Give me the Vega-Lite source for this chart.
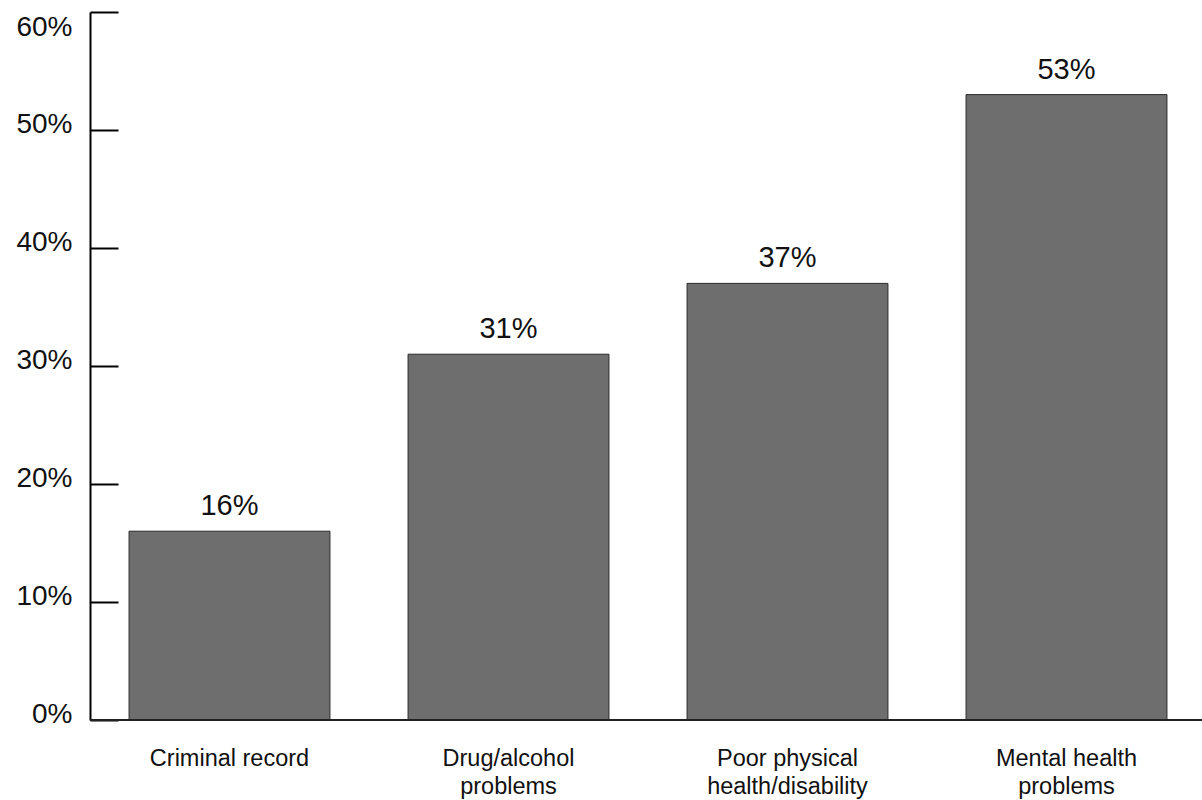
{
  "$schema": "https://vega.github.io/schema/vega-lite/v6.json",
  "autosize": {"type": "none"},
  "width": 1116,
  "height": 708,
  "padding": {"left": 90, "top": 12, "right": 0, "bottom": 80},
  "background": "white",
  "config": {"view": {"stroke": null}, "font": "Liberation Sans"},
  "data": {
    "values": [
      {"category": "Criminal record", "value": 16, "label": "16%"},
      {"category": "Drug/alcohol problems", "value": 31, "label": "31%"},
      {"category": "Poor physical health/disability", "value": 37, "label": "37%"},
      {"category": "Mental health problems", "value": 53, "label": "53%"}
    ]
  },
  "encoding": {
    "x": {
      "field": "category",
      "type": "nominal",
      "sort": null,
      "scale": {"paddingInner": 0.28, "paddingOuter": 0.14},
      "axis": {
        "title": null,
        "labelAngle": 0,
        "labelFont": "Liberation Sans",
        "labelFontSize": 23.5,
        "labelColor": "#111",
        "labelPadding": 26,
        "labelLineHeight": 28,
        "labelBaseline": "top",
        "labelExpr": "datum.value == 'Criminal record' ? ['Criminal record'] : datum.value == 'Drug/alcohol problems' ? ['Drug/alcohol', 'problems'] : datum.value == 'Poor physical health/disability' ? ['Poor physical', 'health/disability'] : ['Mental health', 'problems']",
        "ticks": false,
        "domain": false,
        "labelLimit": 400
      }
    },
    "y": {
      "field": "value",
      "type": "quantitative",
      "scale": {"domain": [0, 60], "nice": false},
      "axis": {
        "title": null,
        "values": [0, 10, 20, 30, 40, 50, 60],
        "grid": false,
        "domainColor": "#000",
        "domainWidth": 2,
        "tickColor": "#000",
        "tickWidth": 2,
        "tickSize": -28,
        "labelFont": "Liberation Sans",
        "labelFontSize": 28,
        "labelColor": "#111",
        "labelPadding": 46,
        "labelBaseline": "alphabetic",
        "labelFlush": false,
        "labelOffset": {"condition": {"test": "datum.value >= 59", "value": 23}, "value": 2},
        "labelExpr": "datum.value + '%'"
      }
    }
  },
  "layer": [
    {
      "mark": {"type": "bar", "fill": "#6e6e6e", "stroke": "#2a2a2a", "strokeWidth": 1}
    },
    {
      "mark": {"type": "rule", "color": "#222", "strokeWidth": 1.5},
      "encoding": {
        "y": {"datum": 0},
        "x": null
      }
    },
    {
      "mark": {"type": "text", "font": "Liberation Sans", "fontSize": 29, "color": "#111", "baseline": "alphabetic", "dy": -16},
      "encoding": {
        "text": {"field": "label", "type": "nominal"}
      }
    }
  ]
}
